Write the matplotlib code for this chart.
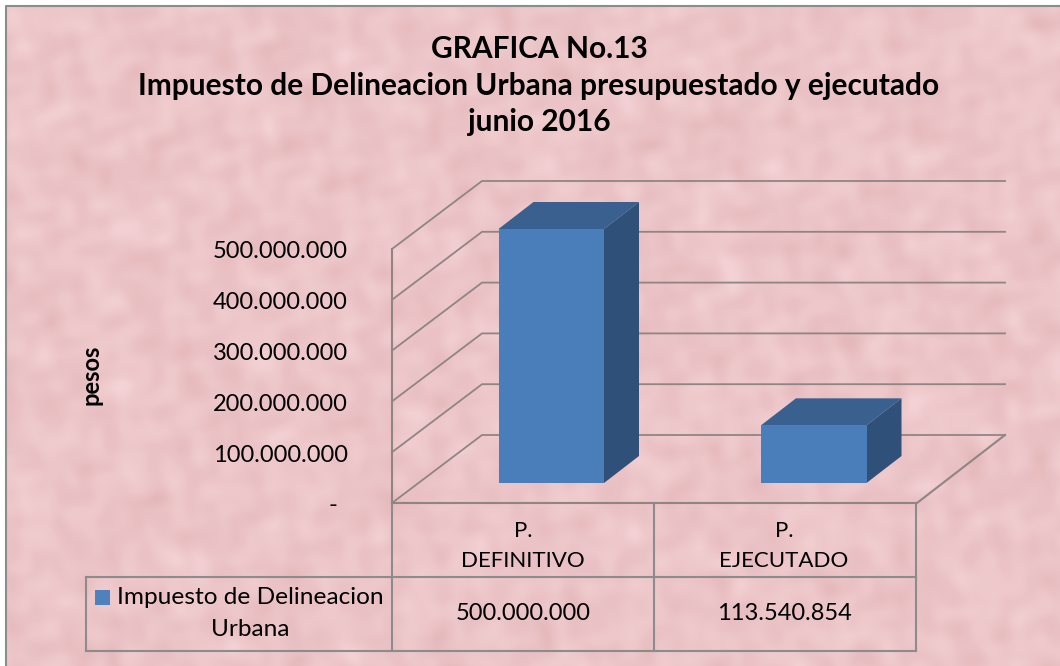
import numpy as np
import matplotlib
matplotlib.use('Agg')
import matplotlib.pyplot as plt
from matplotlib.patches import Polygon, Rectangle

categories = ['P.\nDEFINITIVO', 'P.\nEJECUTADO']
values = [500000000, 113540854]
value_labels = ['500.000.000', '113.540.854']
series_name = 'Impuesto de Delineacion'
ticks = [0, 100000000, 200000000, 300000000, 400000000, 500000000]
tick_labels = ['-', '100.000.000', '200.000.000', '300.000.000', '400.000.000', '500.000.000']
title_lines = ['GRAFICA No.13',
               'Impuesto de Delineacion Urbana presupuestado y ejecutado',
               'junio 2016']

W, H = 1060, 666
plt.rcParams['font.family'] = ['Lato', 'DejaVu Sans']

fig = plt.figure(figsize=(W / 100, H / 100), dpi=100, facecolor='white')

# mottled paper background, in pixel coordinates
bg = fig.add_axes([0, 0, 1, 1])
xx, yy = np.meshgrid(np.arange(W), np.arange(H))
tex = np.zeros((H, W))
for kx, ky, ph in [(0.031, 0.012, 0.4), (-0.022, 0.037, 1.9), (0.055, -0.041, 3.1), (0.013, 0.066, 5.2),
                   (-0.071, -0.024, 2.2), (0.093, 0.058, 0.9), (-0.048, 0.101, 4.1), (0.118, -0.083, 1.3),
                   (0.141, 0.037, 2.8), (-0.107, 0.129, 5.7), (0.009, -0.152, 3.6), (0.167, 0.112, 0.2)]:
    tex += np.sin(kx * xx + ky * yy + ph + 1.5 * np.sin(ky * xx * 0.7 - kx * yy * 0.7))
tex = tex / 6
base = np.array([236, 197, 200]) / 255
img = np.clip(base[None, None, :] + tex[:, :, None] * np.array([0.02, 0.035, 0.035]), 0, 1)
bg.imshow(img, extent=(6, W, H, 6), aspect='auto', zorder=0)
bg.set_xlim(0, W)
bg.set_ylim(H, 0)
bg.axis('off')
bg.plot([6, 6, W], [H, 6, 6], color='#8c8c8c', lw=1.5, zorder=1)

for t, y in zip(title_lines, [49, 86, 122]):
    bg.text(539, y, t, ha='center', va='center', fontsize=21.5, fontweight='bold', color='black')
bg.text(91, 375, 'pesos', rotation=90, ha='center', va='center', fontsize=17, fontweight='bold')

# front plane of the 3d box is the real axes
left, right, bottom, top = 392, 917, 503, 249
ax = fig.add_axes([left / W, 1 - bottom / H, (right - left) / W, (bottom - top) / H])
ax.patch.set_alpha(0)
ax.set_xlim(0, 2)
ax.set_ylim(0, 500000000)
ax.axis('off')
px = 2 / (right - left)
py = 500000000 / (bottom - top)
line = '#8f8583'

# walls: depth offset of the box in pixels
dx, dy = 90 * px, 68 * py
for t in ticks:
    ax.plot([0, dx, 2 + dx - 2 * px], [t, t + dy, t + dy], color=line, lw=1.3, clip_on=False, zorder=2)
ax.plot([0, 0], [0, 500000000], color=line, lw=1.5, clip_on=False, zorder=2)
ax.plot([0, 2, 2 + dx - 2 * px], [0, 0, dy], color=line, lw=1.5, clip_on=False, zorder=2)

# bars, sitting a little inside the floor
bar_w = 105.5 * px
base_dy = 20 * py
depth_x, depth_y = 35 * px, 27 * py
starts = [(498.5 - left) * px, (761 - left) * px]
for x0, v in zip(starts, values):
    y0 = base_dy
    y1 = base_dy + v
    ax.add_patch(Polygon([(x0 + bar_w, y0), (x0 + bar_w + depth_x, y0 + depth_y),
                          (x0 + bar_w + depth_x, y1 + depth_y), (x0 + bar_w, y1)],
                         fc='#2f5179', ec='none', clip_on=False, zorder=3))
    ax.add_patch(Polygon([(x0, y1), (x0 + depth_x, y1 + depth_y),
                          (x0 + bar_w + depth_x, y1 + depth_y), (x0 + bar_w, y1)],
                         fc='#3a6090', ec='none', clip_on=False, zorder=3))
    ax.add_patch(Rectangle((x0, y0), bar_w, v, fc='#4a7ebb', ec='none', clip_on=False, zorder=4))

for t, lab in zip(ticks, tick_labels):
    if t == 0:
        ax.text(-59 * px, t - 3 * py, lab, ha='center', va='center', fontsize=17, clip_on=False)
    else:
        ax.text(-44 * px, t - 3 * py, lab, ha='right', va='center', fontsize=17, clip_on=False)

# data table below the axes
tb = dict(color='#8c8c8c', lw=1.5, clip_on=False, zorder=2)
bg.plot([392, 392], [503, 651], **tb)
bg.plot([654, 654], [503, 651], **tb)
bg.plot([916, 916], [503, 651], **tb)
bg.plot([86, 916], [577, 577], **tb)
bg.plot([86, 916], [651, 651], **tb)
bg.plot([86, 86], [577, 651], **tb)
for i, c in enumerate(categories):
    bg.text(523 + 261 * i, 546, c, ha='center', va='center', fontsize=16, linespacing=1.65)
    bg.text(523 + 261 * i, 614, value_labels[i], ha='center', va='center', fontsize=17)
bg.add_patch(Rectangle((95, 590), 15, 15, fc='#4f81bd', ec='none', zorder=3))
bg.text(250.5, 597, series_name, ha='center', va='center', fontsize=17.6)
bg.text(250, 630, 'Urbana', ha='center', va='center', fontsize=17.6)

fig.savefig('out.png', dpi=100)
